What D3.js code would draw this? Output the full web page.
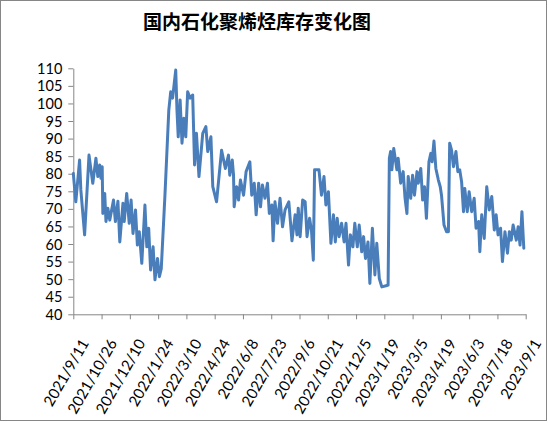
<!DOCTYPE html>
<html>
<head>
<meta charset="utf-8">
<script src="https://cdn.jsdelivr.net/npm/d3@7"></script>
<style>
  body { margin: 0; background: #fff; }
  svg { display: block; }
</style>
</head>
<body>
<svg id="chart" width="548" height="423"></svg>
<script>
// Write your chart code.

const title = "国内石化聚烯烃库存变化图";
const startDate = "2021/9/11";

// days after 2021/9/11
const dayOffsets = [
  0, 4, 10, 12, 18, 25, 31, 36, 39, 42, 44, 46, 47, 50, 52, 55, 58, 64, 67, 71,
  74, 79, 81, 85, 89, 92, 95, 99, 102, 105, 109, 114, 117, 120, 123, 127, 130, 134, 137, 140,
  146, 152, 155, 158, 163, 165, 167, 170, 173, 176, 179, 182, 186, 190, 193, 196, 200, 206, 211, 214,
  219, 222, 228, 236, 242, 247,
  249, 253, 255, 256, 260, 263, 266, 271, 275, 281, 284, 288, 291, 295, 298, 301, 305, 309, 312, 316,
  318, 321, 325, 329, 333, 337, 343, 348, 353, 356, 358, 361, 365, 369, 372, 376, 379, 382, 384, 391,
  395, 399, 402, 406, 410, 414, 417, 420, 423, 427, 431, 434, 438, 441, 445, 448, 452, 455, 459, 462,
  465, 469, 472, 476, 480, 483, 487, 491, 499, 501, 503, 505, 507, 510, 515, 517, 521, 525, 528, 531,
  533, 537, 540, 543, 547, 549, 553, 556, 559, 562, 566, 569, 571, 574, 577, 581, 584, 586, 590, 594,
  597, 599, 602, 605, 609, 612, 615, 618, 621, 623, 627, 630, 634, 638, 641, 645, 647, 650, 654, 658,
  662, 666, 670, 673, 676, 680, 683, 687, 691, 694, 697, 700, 705, 708, 711, 714, 717
];

const inventory = [
  80.1, 72.0, 83.9, 75.4, 62.6, 85.3, 77.3, 84.4, 79.2, 82.5, 78.7, 82.0, 68.7, 74.4, 66.4, 70.2, 66.8, 72.5, 66.4, 72.2,
  60.6, 71.6, 66.4, 74.4, 65.9, 72.5, 63.0, 69.7, 59.7, 63.5, 54.5, 71.1, 59.2, 64.5, 52.6, 59.2, 49.8, 55.9, 50.7, 53.0,
  74.4, 98.1, 103.3, 101.5, 109.5, 98.1, 90.5, 101.0, 88.7, 95.8, 90.5, 103.3, 101.5, 102.4, 82.5, 91.5, 79.2, 91.5, 93.4, 86.3,
  90.5, 76.3, 72.0, 86.7, 81.5, 85.3,
  79.6, 83.9, 79.6, 70.6, 76.3, 72.5, 78.2, 73.9, 80.6, 83.4, 73.9, 77.3, 68.3, 77.3, 70.6, 76.8, 73.0, 77.3, 68.7, 71.1,
  60.9, 72.0, 65.9, 73.0, 64.9, 69.7, 72.0, 60.9, 68.3, 62.6, 70.2, 62.1, 72.5, 72.0, 62.1, 67.3, 64.0, 55.4, 81.1, 81.1,
  73.9, 79.2, 71.1, 74.9, 60.2, 68.3, 60.6, 67.3, 62.1, 65.9, 60.6, 65.9, 54.0, 62.6, 59.2, 65.9, 59.2, 65.4, 57.8, 62.1,
  55.9, 60.6, 48.8, 64.5, 51.2, 60.2, 50.2, 47.8, 48.2, 48.3, 84.4, 86.3, 81.1, 87.2, 81.1, 84.4, 77.3, 80.6, 73.0, 68.7,
  79.2, 73.0, 79.6, 73.9, 80.6, 77.3, 81.5, 72.5, 76.3, 67.3, 83.4, 85.8, 83.4, 89.3, 81.5, 78.2, 76.3, 73.9, 65.4, 63.5,
  63.5, 88.7, 86.7, 82.0, 86.3, 80.6, 81.1, 77.7, 69.2, 75.8, 69.2, 74.9, 69.2, 73.0, 64.5, 66.4, 57.8, 68.3, 61.6, 76.3,
  69.7, 73.5, 64.0, 68.3, 62.6, 64.5, 55.0, 63.5, 57.4, 63.5, 61.1, 65.4, 61.1, 64.9, 59.7, 69.2, 58.8
];

const xTickLabels = [
  "2021/9/11", "2021/10/26", "2021/12/10", "2022/1/24", "2022/3/10", "2022/4/24",
  "2022/6/8", "2022/7/23", "2022/9/6", "2022/10/21", "2022/12/5", "2023/1/19",
  "2023/3/5", "2023/4/19", "2023/6/3", "2023/7/18", "2023/9/1"
];

const yTicks = [40, 45, 50, 55, 60, 65, 70, 75, 80, 85, 90, 95, 100, 105, 110];

const parseDate = d3.timeParse("%Y/%-m/%-d");
const start = parseDate(startDate);
const points = dayOffsets.map((d, i) => ({ date: d3.timeDay.offset(start, d), value: inventory[i] }));
const tickDates = xTickLabels.map(parseDate);

const svg = d3.select("#chart");
const axisColor = "#868686";
const font = "Lato, 'Liberation Sans', sans-serif";

svg.append("rect")
  .attr("x", 0.5).attr("y", 0.5)
  .attr("width", 546).attr("height", 420)
  .attr("fill", "#fff")
  .attr("stroke", axisColor);

const x = d3.scaleTime()
  .domain([tickDates[0], tickDates[tickDates.length - 1]])
  .range([73.3, 525.7]);

const y = d3.scaleLinear()
  .domain([40, 110])
  .range([314.3, 68.3]);

svg.append("text")
  .attr("x", 257).attr("y", 29)
  .attr("text-anchor", "middle")
  .style("font-family", "'Noto Sans CJK SC', sans-serif")
  .style("font-weight", "bold")
  .style("font-size", "19px")
  .text(title);

const yAxis = svg.append("g")
  .attr("transform", `translate(${x.range()[0]},0)`)
  .call(d3.axisLeft(y).tickValues(yTicks).tickSize(5).tickSizeOuter(0).tickPadding(6));

const xAxis = svg.append("g")
  .attr("transform", `translate(0,${y.range()[0]})`)
  .call(d3.axisBottom(x).tickValues(tickDates).tickSize(5).tickSizeOuter(0)
    .tickFormat((d, i) => xTickLabels[i]));

[yAxis, xAxis].forEach(g => {
  g.selectAll("path, line").attr("stroke", axisColor);
  g.selectAll("text")
    .attr("fill", "#000")
    .style("font-family", font)
    .style("font-size", "14.5px");
});

yAxis.selectAll("text").attr("dy", "0.35em");

xAxis.selectAll("text")
  .attr("x", 0).attr("y", 0).attr("dy", "0.35em")
  .attr("text-anchor", "end")
  .style("font-size", "15px")
  .attr("transform", "translate(11,26) rotate(-60)");

const line = d3.line()
  .x(d => x(d.date))
  .y(d => y(d.value));

svg.append("path")
  .datum(points)
  .attr("fill", "none")
  .attr("stroke", "#4a7ebb")
  .attr("stroke-width", 3)
  .attr("stroke-linejoin", "round")
  .attr("stroke-linecap", "round")
  .attr("d", line);
</script>
</body>
</html>
